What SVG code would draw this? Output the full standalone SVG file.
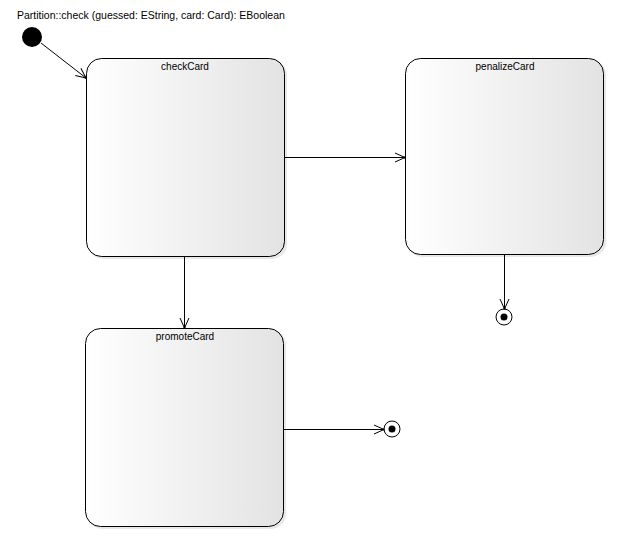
<svg xmlns="http://www.w3.org/2000/svg" width="619" height="542" viewBox="0 0 619 542">
<style>
.node{stroke:#000;stroke-width:1;fill:url(#g)}
.shadow{fill:#d8d8d8;opacity:0.6}
.lbl{font-family:"Liberation Sans",Arial,sans-serif;font-size:10px;fill:#000;text-anchor:middle}
.title{font-family:"Liberation Sans",Arial,sans-serif;font-size:10.5px;fill:#000}
.edge{stroke:#000;stroke-width:1;fill:none;marker-end:url(#arr)}
</style>
<defs>
<linearGradient id="g" x1="0" y1="0" x2="1" y2="0">
<stop offset="0" stop-color="#ffffff"/>
<stop offset="1" stop-color="#e3e3e3"/>
</linearGradient>
<marker id="arr" viewBox="0 0 12 12" refX="11" refY="6" markerWidth="12" markerHeight="12" markerUnits="userSpaceOnUse" orient="auto">
<path d="M1,1.5 L11,6 L1,10.5" fill="none" stroke="#000" stroke-width="1"/>
<rect x="9.5" y="5" width="2" height="2" fill="#000"/>
</marker>
</defs>
<rect width="619" height="542" fill="#fff"/>
<text class="title" x="17" y="19">Partition::check (guessed: EString, card: Card): EBoolean</text>
<g id="initial">
<circle cx="32" cy="37" r="10" fill="#000"/>
</g>
<g id="checkCard">
<rect class="shadow" x="88" y="60" width="199" height="199" rx="15"/>
<rect class="node" x="86.5" y="58.5" width="198" height="198" rx="15"/>
<text class="lbl" x="185" y="70">checkCard</text>
</g>
<g id="penalizeCard">
<rect class="shadow" x="407" y="60" width="199" height="197" rx="15"/>
<rect class="node" x="405.5" y="58.5" width="198" height="196" rx="15"/>
<text class="lbl" x="505" y="70">penalizeCard</text>
</g>
<g id="promoteCard">
<rect class="shadow" x="87" y="330" width="199" height="199" rx="15"/>
<rect class="node" x="85.5" y="328.5" width="198" height="198" rx="15"/>
<text class="lbl" x="185" y="340">promoteCard</text>
</g>
<g id="final1">
<circle cx="504" cy="317" r="8" fill="#fff" stroke="#000"/>
<circle cx="504" cy="317" r="3.5" fill="#000"/>
</g>
<g id="final2">
<circle cx="392" cy="429" r="8" fill="#fff" stroke="#000"/>
<circle cx="392" cy="429" r="3.5" fill="#000"/>
</g>
<g id="connectors">
<path class="edge" d="M41,43 L86,78"/>
<path class="edge" d="M285,157.5 L405,157.5"/>
<path class="edge" d="M184.5,257 L184.5,328"/>
<path class="edge" d="M504.5,255 L504.5,309"/>
<path class="edge" d="M284,429.5 L384,429.5"/>
</g>
</svg>
